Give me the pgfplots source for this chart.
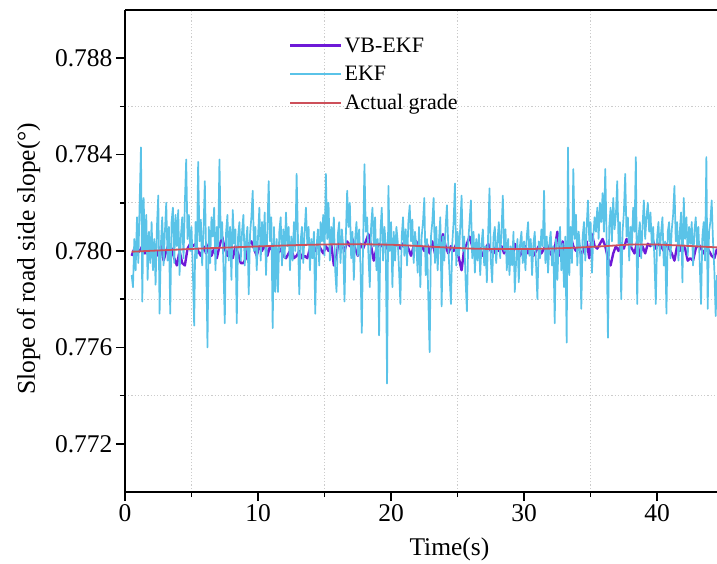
\documentclass[border=0pt]{standalone}
\usepackage{pgfplots}
\pgfplotsset{compat=1.18}
\usepackage{fontspec}
\setmainfont{Liberation Serif}
\definecolor{vbcol}{RGB}{110,25,215}
\definecolor{ekfcol}{RGB}{90,195,232}
\definecolor{actcol}{RGB}{205,80,90}
\begin{document}
\begin{tikzpicture}
\path[use as bounding box] (0,0) rectangle (717pt,563pt);
\begin{axis}[
  at={(125pt,71pt)}, anchor=south west,
  scale only axis, width=592pt, height=482pt,
  xmin=0, xmax=44.5, ymin=0.770, ymax=0.790,
  axis x line*=box, axis y line*=left,
  xtick pos=bottom, ytick pos=left,
  xtick={0,10,20,30,40}, minor xtick={5,15,25,35,45},
  ytick={0.772,0.776,0.780,0.784,0.788}, minor ytick={0.774,0.778,0.782,0.786},
  tick align=outside,
  major tick length=9pt, minor tick length=5pt,
  every tick/.style={black, line width=1.6pt},
  axis line style={line width=1.8pt},
  xminorgrids, yminorgrids,
  minor grid style={gray!40, line width=0.7pt, dash pattern=on 1.2pt off 2pt},
  /pgf/number format/assume math mode=true,
  yticklabel style={/pgf/number format/.cd, fixed, fixed zerofill, precision=3},
  xticklabel style={/pgf/number format/.cd, fixed, precision=0},
  tick label style={font=\fontsize{25.5}{30}\selectfont},
  label style={font=\fontsize{25.5}{30}\selectfont},
  xlabel={Time(s)},
  ylabel={Slope of road side slope(°)},
  xlabel style={at={(axis description cs:0.548,-0.12)}, anchor=center},
  ylabel style={at={(axis description cs:-0.163,0.484)}, anchor=center},
  legend style={at={(axis description cs:0.277,0.947)}, anchor=north west, draw=none, fill=none,
    font=\fontsize{22}{26}\selectfont, row sep=8.5pt, inner sep=0pt},
  legend cell align=left,
  legend image code/.code={\draw[#1] (0pt,0pt) -- (51pt,0pt);},
  clip=true,
]
\addlegendimage{vbcol, line width=2.4pt}
\addlegendentry{VB-EKF}
\addlegendimage{ekfcol, line width=1.8pt}
\addlegendentry{EKF}
\addlegendimage{actcol, line width=1.8pt}
\addlegendentry{Actual grade}

\addplot[vbcol, line width=2.4pt, line join=round, forget plot] table {
0.5 0.7798
0.7 0.7801
0.9 0.7799
1.1 0.7800
1.3 0.7802
1.5 0.7799
1.7 0.7801
1.9 0.7803
2.1 0.7803
2.3 0.7801
2.5 0.7798
2.7 0.7802
2.9 0.7796
3.1 0.7800
3.3 0.7803
3.5 0.7801
3.7 0.7797
3.9 0.7794
4.1 0.7800
4.3 0.7795
4.5 0.7794
4.7 0.7801
4.9 0.7803
5.1 0.7802
5.3 0.7803
5.5 0.7800
5.7 0.7798
5.9 0.7802
6.1 0.7799
6.3 0.7803
6.5 0.7798
6.7 0.7801
6.9 0.7797
7.1 0.7802
7.3 0.7806
7.5 0.7801
7.7 0.7798
7.9 0.7803
8.1 0.7797
8.3 0.7802
8.5 0.7799
8.7 0.7795
8.9 0.7795
9.1 0.7797
9.3 0.7803
9.5 0.7804
9.7 0.7801
9.9 0.7798
10.1 0.7802
10.3 0.7800
10.5 0.7803
10.7 0.7798
10.9 0.7802
11.1 0.7800
11.3 0.7797
11.5 0.7799
11.7 0.7801
11.9 0.7798
12.1 0.7797
12.3 0.7799
12.5 0.7801
12.7 0.7797
12.9 0.7798
13.1 0.7800
13.3 0.7797
13.5 0.7798
13.7 0.7797
13.9 0.7801
14.1 0.7802
14.3 0.7800
14.5 0.7803
14.7 0.7801
14.9 0.7799
15.1 0.7802
15.3 0.7800
15.5 0.7803
15.7 0.7794
15.9 0.7798
16.1 0.7806
16.3 0.7803
16.5 0.7800
16.7 0.7804
16.9 0.7802
17.1 0.7805
17.3 0.7801
17.5 0.7798
17.7 0.7803
17.9 0.7801
18.1 0.7804
18.3 0.7807
18.5 0.7802
18.7 0.7796
18.9 0.7801
19.1 0.7803
19.3 0.7802
19.5 0.7804
19.7 0.7801
19.9 0.7803
20.1 0.7802
20.3 0.7804
20.5 0.7802
20.7 0.7801
20.9 0.7803
21.1 0.7804
21.3 0.7801
21.5 0.7798
21.7 0.7802
21.9 0.7804
22.1 0.7801
22.3 0.7802
22.5 0.7800
22.7 0.7803
22.9 0.7799
23.1 0.7804
23.3 0.7799
23.5 0.7801
23.7 0.7803
23.9 0.7807
24.1 0.7802
24.3 0.7799
24.5 0.7802
24.7 0.7800
24.9 0.7803
25.1 0.7797
25.3 0.7792
25.5 0.7801
25.7 0.7803
25.9 0.7806
26.1 0.7802
26.3 0.7799
26.5 0.7802
26.7 0.7801
26.9 0.7798
27.1 0.7801
27.3 0.7803
27.5 0.7800
27.7 0.7799
27.9 0.7802
28.1 0.7800
28.3 0.7802
28.5 0.7799
28.7 0.7801
28.9 0.7798
29.1 0.7796
29.3 0.7803
29.5 0.7800
29.7 0.7798
29.9 0.7801
30.1 0.7802
30.3 0.7799
30.5 0.7801
30.7 0.7798
30.9 0.7800
31.1 0.7802
31.3 0.7799
31.5 0.7801
31.7 0.7803
31.9 0.7800
32.1 0.7798
32.3 0.7801
32.5 0.7808
32.7 0.7798
32.9 0.7804
33.1 0.7797
33.3 0.7801
33.5 0.7806
33.7 0.7802
33.9 0.7800
34.1 0.7803
34.3 0.7798
34.5 0.7801
34.7 0.7804
34.9 0.7797
35.1 0.7807
35.3 0.7802
35.5 0.7801
35.7 0.7803
35.9 0.7805
36.1 0.7802
36.3 0.7797
36.5 0.7794
36.7 0.7799
36.9 0.7802
37.1 0.7800
37.3 0.7803
37.5 0.7801
37.7 0.7805
37.9 0.7803
38.1 0.7801
38.3 0.7799
38.5 0.7804
38.7 0.7798
38.9 0.7802
39.1 0.7799
39.3 0.7803
39.5 0.7802
39.7 0.7804
39.9 0.7801
40.1 0.7803
40.3 0.7802
40.5 0.7800
40.7 0.7803
40.9 0.7801
41.1 0.7799
41.3 0.7796
41.5 0.7802
41.7 0.7800
41.9 0.7803
42.1 0.7801
42.3 0.7796
42.5 0.7797
42.7 0.7796
42.9 0.7801
43.1 0.7803
43.3 0.7801
43.5 0.7799
43.7 0.7802
43.9 0.7800
44.1 0.7798
44.3 0.7797
44.5 0.7801
};

\addplot[ekfcol, line width=1.7pt, line join=round, forget plot] table {
0.5 0.7790
0.6 0.7785
0.7 0.7805
0.8 0.7792
0.9 0.7814
1.0 0.7795
1.1 0.7820
1.2 0.7843
1.3 0.7779
1.4 0.7822
1.5 0.7800
1.6 0.7815
1.7 0.7788
1.8 0.7808
1.9 0.7795
2.0 0.7812
2.1 0.7792
2.2 0.7805
2.3 0.7786
2.4 0.7810
2.5 0.7823
2.6 0.7774
2.7 0.7803
2.8 0.7814
2.9 0.7794
3.0 0.7808
3.1 0.7820
3.2 0.7796
3.3 0.7810
3.4 0.7774
3.5 0.7812
3.6 0.7818
3.7 0.7795
3.8 0.7815
3.9 0.7802
4.0 0.7817
4.1 0.7790
4.2 0.7806
4.3 0.7814
4.4 0.7797
4.5 0.7820
4.6 0.7838
4.7 0.7805
4.8 0.7815
4.9 0.7800
5.0 0.7810
5.1 0.7792
5.2 0.7769
5.3 0.7812
5.4 0.7797
5.5 0.7837
5.6 0.7804
5.7 0.7813
5.8 0.7794
5.9 0.7808
6.0 0.7829
6.1 0.7798
6.2 0.7760
6.3 0.7810
6.4 0.7795
6.5 0.7814
6.6 0.7806
6.7 0.7818
6.8 0.7792
6.9 0.7810
7.0 0.7802
7.1 0.7838
7.2 0.7805
7.3 0.7812
7.4 0.7794
7.5 0.7770
7.6 0.7808
7.7 0.7815
7.8 0.7796
7.9 0.7810
8.0 0.7788
8.1 0.7817
8.2 0.7803
8.3 0.7809
8.4 0.7770
8.5 0.7806
8.6 0.7812
8.7 0.7796
8.8 0.7808
8.9 0.7815
9.0 0.7794
9.1 0.7804
9.2 0.7810
9.3 0.7782
9.4 0.7807
9.5 0.7814
9.6 0.7825
9.7 0.7800
9.8 0.7810
9.9 0.7792
10.0 0.7806
10.1 0.7818
10.2 0.7796
10.3 0.7812
10.4 0.7802
10.5 0.7816
10.6 0.7790
10.7 0.7808
10.8 0.7829
10.9 0.7804
11.0 0.7814
11.1 0.7768
11.2 0.7810
11.3 0.7783
11.4 0.7805
11.5 0.7783
11.6 0.7808
11.7 0.7814
11.8 0.7794
11.9 0.7809
12.0 0.7797
12.1 0.7816
12.2 0.7802
12.3 0.7810
12.4 0.7792
12.5 0.7806
12.6 0.7796
12.7 0.7812
12.8 0.7800
12.9 0.7832
13.0 0.7806
13.1 0.7782
13.2 0.7804
13.3 0.7810
13.4 0.7795
13.5 0.7808
13.6 0.7818
13.7 0.7803
13.8 0.7810
13.9 0.7792
14.0 0.7805
14.1 0.7797
14.2 0.7808
14.3 0.7774
14.4 0.7802
14.5 0.7809
14.6 0.7794
14.7 0.7812
14.8 0.7804
14.9 0.7815
15.0 0.7798
15.1 0.7832
15.2 0.7805
15.3 0.7820
15.4 0.7796
15.5 0.7810
15.6 0.7803
15.7 0.7814
15.8 0.7792
15.9 0.7783
16.0 0.7807
16.1 0.7812
16.2 0.7795
16.3 0.7809
16.4 0.7802
16.5 0.7779
16.6 0.7806
16.7 0.7825
16.8 0.7810
16.9 0.7820
17.0 0.7797
17.1 0.7808
17.2 0.7788
17.3 0.7805
17.4 0.7812
17.5 0.7798
17.6 0.7809
17.7 0.7794
17.8 0.7766
17.9 0.7804
18.0 0.7836
18.1 0.7808
18.2 0.7814
18.3 0.7798
18.4 0.7785
18.5 0.7810
18.6 0.7818
18.7 0.7802
18.8 0.7814
18.9 0.7792
19.0 0.7805
19.1 0.7765
19.2 0.7808
19.3 0.7818
19.4 0.7796
19.5 0.7810
19.6 0.7803
19.7 0.7745
19.8 0.7827
19.9 0.7800
20.0 0.7812
20.1 0.7785
20.2 0.7808
20.3 0.7796
20.4 0.7810
20.5 0.7804
20.6 0.7792
20.7 0.7778
20.8 0.7806
20.9 0.7814
21.0 0.7798
21.1 0.7809
21.2 0.7794
21.3 0.7812
21.4 0.7819
21.5 0.7804
21.6 0.7813
21.7 0.7795
21.8 0.7808
21.9 0.7802
22.0 0.7791
22.1 0.7810
22.2 0.7785
22.3 0.7806
22.4 0.7812
22.5 0.7822
22.6 0.7790
22.7 0.7805
22.8 0.7780
22.9 0.7758
23.0 0.7806
23.1 0.7812
23.2 0.7822
23.3 0.7795
23.4 0.7810
23.5 0.7792
23.6 0.7804
23.7 0.7814
23.8 0.7777
23.9 0.7806
24.0 0.7796
24.1 0.7810
24.2 0.7819
24.3 0.7802
24.4 0.7790
24.5 0.7778
24.6 0.7803
24.7 0.7812
24.8 0.7828
24.9 0.7794
25.0 0.7808
25.1 0.7798
25.2 0.7810
25.3 0.7823
25.4 0.7800
25.5 0.7806
25.6 0.7788
25.7 0.7775
25.8 0.7804
25.9 0.7812
26.0 0.7821
26.1 0.7797
26.2 0.7808
26.3 0.7791
26.4 0.7805
26.5 0.7796
26.6 0.7807
26.7 0.7790
26.8 0.7803
26.9 0.7809
27.0 0.7794
27.1 0.7802
27.2 0.7787
27.3 0.7808
27.4 0.7826
27.5 0.7796
27.6 0.7787
27.7 0.7806
27.8 0.7810
27.9 0.7795
28.0 0.7804
28.1 0.7812
28.2 0.7797
28.3 0.7808
28.4 0.7823
28.5 0.7800
28.6 0.7809
28.7 0.7792
28.8 0.7805
28.9 0.7790
29.0 0.7802
29.1 0.7794
29.2 0.7808
29.3 0.7783
29.4 0.7796
29.5 0.7805
29.6 0.7787
29.7 0.7803
29.8 0.7808
29.9 0.7795
30.0 0.7804
30.1 0.7792
30.2 0.7806
30.3 0.7812
30.4 0.7798
30.5 0.7805
30.6 0.7790
30.7 0.7803
30.8 0.7808
30.9 0.7794
31.0 0.7780
31.1 0.7804
31.2 0.7797
31.3 0.7809
31.4 0.7802
31.5 0.7825
31.6 0.7795
31.7 0.7806
31.8 0.7791
31.9 0.7803
32.0 0.7808
32.1 0.7794
32.2 0.7802
32.3 0.7770
32.4 0.7805
32.5 0.7788
32.6 0.7804
32.7 0.7810
32.8 0.7792
32.9 0.7803
33.0 0.7785
33.1 0.7806
33.2 0.7762
33.3 0.7843
33.4 0.7790
33.5 0.7810
33.6 0.7795
33.7 0.7834
33.8 0.7805
33.9 0.7815
34.0 0.7794
34.1 0.7808
34.2 0.7802
34.3 0.7776
34.4 0.7806
34.5 0.7812
34.6 0.7796
34.7 0.7810
34.8 0.7821
34.9 0.7804
35.0 0.7812
35.1 0.7791
35.2 0.7806
35.3 0.7814
35.4 0.7808
35.5 0.7818
35.6 0.7805
35.7 0.7820
35.8 0.7812
35.9 0.7824
36.0 0.7808
36.1 0.7834
36.2 0.7806
36.3 0.7764
36.4 0.7810
36.5 0.7818
36.6 0.7804
36.7 0.7822
36.8 0.7809
36.9 0.7815
37.0 0.7829
37.1 0.7803
37.2 0.7812
37.3 0.7780
37.4 0.7808
37.5 0.7816
37.6 0.7832
37.7 0.7806
37.8 0.7814
37.9 0.7796
38.0 0.7810
38.1 0.7802
38.2 0.7818
38.3 0.7808
38.4 0.7839
38.5 0.7778
38.6 0.7806
38.7 0.7812
38.8 0.7797
38.9 0.7810
39.0 0.7821
39.1 0.7805
39.2 0.7814
39.3 0.7820
39.4 0.7808
39.5 0.7816
39.6 0.7802
39.7 0.7810
39.8 0.7796
39.9 0.7778
40.0 0.7806
40.1 0.7812
40.2 0.7798
40.3 0.7808
40.4 0.7814
40.5 0.7794
40.6 0.7804
40.7 0.7774
40.8 0.7808
40.9 0.7812
41.0 0.7797
41.1 0.7809
41.2 0.7815
41.3 0.7827
41.4 0.7804
41.5 0.7812
41.6 0.7796
41.7 0.7808
41.8 0.7816
41.9 0.7787
42.0 0.7822
42.1 0.7805
42.2 0.7814
42.3 0.7798
42.4 0.7810
42.5 0.7803
42.6 0.7812
42.7 0.7794
42.8 0.7808
42.9 0.7814
43.0 0.7802
43.1 0.7810
43.2 0.7795
43.3 0.7778
43.4 0.7806
43.5 0.7812
43.6 0.7796
43.7 0.7839
43.8 0.7776
43.9 0.7808
44.0 0.7812
44.1 0.7821
44.2 0.7804
44.3 0.7792
44.4 0.7773
44.5 0.7790
};

\addplot[actcol, line width=1.8pt, forget plot] table {
0.5 0.77997
2 0.78001
4 0.78006
6 0.78011
8 0.78015
10 0.78019
12 0.78023
14 0.78026
16 0.78028
18 0.78028
20 0.78026
22 0.78021
24 0.78015
26 0.78010
28 0.78008
30 0.78008
32 0.78010
34 0.78014
36 0.78020
38 0.78027
40 0.78027
42 0.78022
44.5 0.78015
};
\end{axis}
\end{tikzpicture}
\end{document}
